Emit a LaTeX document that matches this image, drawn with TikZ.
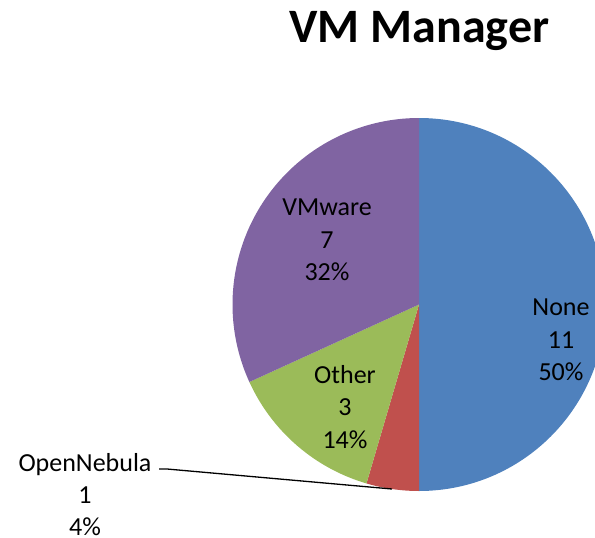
\documentclass[tikz,border=0pt]{standalone}
\usepackage{fontspec}
\setmainfont{Carlito}
\definecolor{cnone}{HTML}{4F81BD}
\definecolor{cneb}{HTML}{C0504D}
\definecolor{cother}{HTML}{9BBB59}
\definecolor{cvm}{HTML}{8064A2}
\begin{document}
\begin{tikzpicture}[x=1pt,y=-1pt,
  lbl/.style={align=center,font=\fontsize{26}{32.5}\selectfont,inner sep=0pt}]
\useasboundingbox (0,0) rectangle (595,538);
\clip (0,0) rectangle (595,538);
\coordinate (c) at (419,304.5);
\def\R{186.5}
\fill[cnone] (c) -- ++(-90:\R) arc[start angle=-90,end angle=90,radius=\R] -- cycle;
\fill[cneb] (c) -- ++(90:\R) arc[start angle=90,end angle=106.36,radius=\R] -- cycle;
\fill[cother] (c) -- ++(106.36:\R) arc[start angle=106.36,end angle=155.45,radius=\R] -- cycle;
\fill[cvm] (c) -- ++(155.45:\R) arc[start angle=155.45,end angle=270,radius=\R] -- cycle;
\node[font=\fontsize{48}{56}\selectfont\bfseries,inner sep=0pt,anchor=base] (title) at (419.5,42) {VM Manager};
\node[lbl] (none) at (561,340) {None\\11\\50\%};
\node[lbl] (other) at (345,407) {Other\\3\\14\%};
\node[lbl] (vmware) at (327,240) {VMware\\7\\32\%};
\node[lbl,font=\fontsize{26}{32}\selectfont] (neb) at (85,495) {OpenNebula\\1\\4\%};
\coordinate (l0) at (159,469);
\coordinate (l1) at (167,469);
\coordinate (l2) at (392,489);
\draw[line width=1.3pt] (l0) -- (l1) -- (l2);
\end{tikzpicture}
\end{document}
